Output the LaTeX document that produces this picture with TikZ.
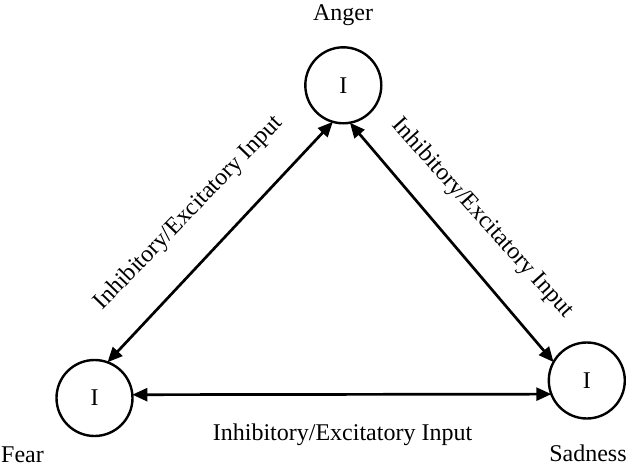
\documentclass[tikz,border=0pt]{standalone}
\usepackage{fontspec}
\setmainfont{Liberation Serif}
\usetikzlibrary{arrows.meta}
\begin{document}
\begin{tikzpicture}[x=1pt,y=-1pt,
  emo/.style={circle,draw,line width=2.4pt,minimum size=76pt,inner sep=0pt,outer sep=0pt,font=\fontsize{24}{28}\selectfont},
  lbl/.style={font=\fontsize{24}{28}\selectfont,inner sep=0pt,anchor=base},
  link/.style={line width=2.7pt,{Triangle[length=15pt,width=13pt]}-{Triangle[length=15pt,width=13pt]}}]
\useasboundingbox[fill=white] (0,0) rectangle (626,468);
\node[emo] (anger) at (343.3,85.3) {I};
\node[emo] (fear) at (94.5,398) {I};
\node[emo] (sad) at (586.8,380.5) {I};
\node[lbl] (angerlbl) at (343,20.7) {Anger};
\node[lbl] (fearlbl) at (22.5,462) {Fear};
\node[lbl] (sadlbl) at (588,461.7) {Sadness};
\node[lbl] (botlbl) at (342.5,440) {Inhibitory/Excitatory Input};
\node[lbl,rotate=46] (leftlbl) at (193,217) {Inhibitory/Excitatory Input};
\node[lbl,rotate=-48] (rightlbl) at (478,222) {Inhibitory/Excitatory Input};
\draw[link] (fear.70.6) -- (anger.254);
\draw[link] (anger.280) -- (sad.151.6);
\draw[link] (fear.5.5) -- (sad.201.5);
\end{tikzpicture}
\end{document}
